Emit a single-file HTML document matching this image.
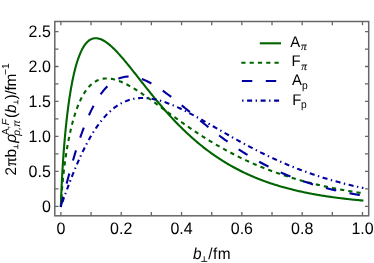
<!DOCTYPE html>
<html><head><meta charset="utf-8"><title>plot</title>
<style>
html,body{margin:0;padding:0;background:#fff;}
body{width:374px;height:263px;overflow:hidden;position:relative;font-family:"Liberation Sans",sans-serif;}
</style></head><body>
<svg width="374" height="263" viewBox="0 0 374 263" text-rendering="geometricPrecision" style="display:block;position:absolute;left:0;top:0;will-change:transform">
<rect x="0" y="0" width="374" height="263" fill="#ffffff"/>
<defs><clipPath id="c"><rect x="54.8" y="21.5" width="313.9" height="194.3"/></clipPath></defs>
<g clip-path="url(#c)" fill="none" stroke-linejoin="round">
<path d="M60.88,206.88 L60.90,206.28 L61.16,197.56 L61.41,191.00 L61.67,185.27 L61.92,180.08 L62.18,175.28 L62.43,170.80 L62.69,166.58 L62.95,162.58 L63.20,158.78 L63.46,155.16 L63.71,151.69 L63.97,148.36 L64.22,145.16 L64.48,142.08 L64.73,139.11 L64.99,136.25 L65.25,133.48 L65.50,130.80 L65.76,128.20 L66.01,125.69 L66.27,123.25 L66.52,120.89 L66.78,118.59 L67.03,116.36 L67.29,114.20 L67.55,112.09 L67.80,110.04 L68.06,108.05 L68.31,106.11 L68.57,104.22 L68.82,102.38 L69.08,100.59 L69.33,98.84 L69.59,97.14 L69.85,95.48 L70.10,93.86 L70.36,92.28 L70.61,90.74 L70.87,89.24 L71.12,87.78 L71.38,86.35 L71.64,84.96 L71.89,83.60 L72.15,82.27 L72.40,80.98 L72.66,79.71 L72.91,78.48 L73.17,77.28 L73.42,76.10 L73.68,74.95 L73.94,73.83 L74.19,72.74 L74.45,71.67 L74.70,70.63 L74.96,69.61 L75.21,68.62 L75.47,67.65 L75.72,66.71 L75.98,65.78 L76.94,62.51 L77.90,59.52 L78.86,56.80 L79.83,54.34 L80.79,52.10 L81.75,50.08 L82.71,48.26 L83.67,46.63 L84.63,45.18 L85.59,43.89 L86.55,42.76 L87.52,41.78 L88.48,40.93 L89.44,40.21 L90.40,39.61 L91.36,39.12 L92.32,38.75 L93.28,38.47 L94.24,38.30 L95.21,38.21 L96.17,38.20 L97.13,38.28 L98.09,38.44 L99.05,38.66 L100.01,38.96 L100.97,39.31 L101.93,39.73 L102.90,40.21 L103.86,40.73 L104.82,41.31 L105.78,41.94 L106.74,42.61 L107.70,43.33 L108.66,44.08 L109.63,44.87 L110.59,45.70 L111.55,46.56 L112.51,47.45 L113.47,48.37 L114.43,49.32 L115.39,50.29 L116.35,51.29 L117.32,52.30 L118.28,53.34 L119.24,54.40 L120.20,55.48 L121.16,56.57 L122.12,57.68 L123.08,58.80 L124.04,59.94 L125.01,61.09 L125.97,62.24 L126.93,63.41 L127.89,64.59 L128.85,65.77 L129.81,66.96 L130.77,68.16 L131.73,69.36 L132.70,70.57 L133.66,71.78 L134.62,72.99 L135.58,74.21 L136.54,75.43 L137.50,76.65 L138.46,77.87 L139.42,79.09 L140.39,80.31 L141.35,81.53 L142.31,82.75 L143.27,83.97 L144.23,85.18 L145.19,86.39 L146.15,87.60 L147.12,88.81 L148.08,90.01 L149.04,91.21 L150.00,92.40 L150.96,93.59 L151.92,94.78 L152.88,95.95 L153.84,97.13 L154.81,98.30 L155.77,99.46 L156.73,100.61 L157.69,101.76 L158.65,102.91 L159.61,104.04 L160.57,105.17 L161.53,106.29 L162.50,107.41 L163.46,108.52 L164.42,109.62 L165.38,110.71 L166.34,111.79 L167.30,112.87 L168.26,113.94 L169.22,115.00 L170.19,116.06 L171.15,117.10 L172.11,118.14 L173.07,119.17 L174.03,120.19 L174.99,121.20 L175.95,122.20 L176.92,123.20 L177.88,124.18 L178.84,125.16 L179.80,126.13 L180.76,127.09 L181.72,128.04 L182.68,128.99 L183.64,129.92 L184.61,130.85 L185.57,131.77 L186.53,132.67 L187.49,133.57 L188.45,134.47 L189.41,135.35 L190.37,136.22 L191.33,137.09 L192.30,137.95 L193.26,138.79 L194.22,139.63 L195.18,140.47 L196.14,141.29 L197.10,142.10 L198.06,142.91 L199.02,143.71 L199.99,144.50 L200.95,145.28 L201.91,146.05 L202.87,146.82 L203.83,147.57 L204.79,148.32 L205.75,149.06 L206.72,149.79 L207.68,150.52 L208.64,151.24 L209.60,151.94 L210.56,152.64 L211.52,153.34 L212.48,154.02 L213.44,154.70 L214.41,155.37 L215.37,156.03 L216.33,156.69 L217.29,157.33 L218.25,157.97 L219.21,158.61 L220.17,159.23 L221.13,159.85 L222.10,160.46 L223.06,161.06 L224.02,161.66 L224.98,162.25 L225.94,162.83 L226.90,163.41 L227.86,163.98 L228.82,164.54 L229.79,165.09 L230.75,165.64 L231.71,166.18 L232.67,166.72 L233.63,167.25 L234.59,167.77 L235.55,168.29 L236.51,168.80 L237.48,169.30 L238.44,169.80 L239.40,170.29 L240.36,170.78 L241.32,171.26 L242.28,171.73 L243.24,172.20 L244.21,172.66 L245.17,173.11 L246.13,173.57 L247.09,174.01 L248.05,174.45 L249.01,174.88 L249.97,175.31 L250.93,175.73 L251.90,176.15 L252.86,176.56 L253.82,176.97 L254.78,177.37 L255.74,177.77 L256.70,178.16 L257.66,178.55 L258.62,178.93 L259.59,179.31 L260.55,179.68 L261.51,180.05 L262.47,180.41 L263.43,180.77 L264.39,181.12 L265.35,181.47 L266.31,181.81 L267.28,182.15 L268.24,182.49 L269.20,182.82 L270.16,183.14 L271.12,183.47 L272.08,183.78 L273.04,184.10 L274.01,184.41 L274.97,184.71 L275.93,185.01 L276.89,185.31 L277.85,185.61 L278.81,185.90 L279.77,186.18 L280.73,186.46 L281.70,186.74 L282.66,187.02 L283.62,187.29 L284.58,187.55 L285.54,187.82 L286.50,188.08 L287.46,188.34 L288.42,188.59 L289.39,188.84 L290.35,189.09 L291.31,189.33 L292.27,189.57 L293.23,189.81 L294.19,190.04 L295.15,190.27 L296.11,190.50 L297.08,190.72 L298.04,190.94 L299.00,191.16 L299.96,191.38 L300.92,191.59 L301.88,191.80 L302.84,192.00 L303.81,192.21 L304.77,192.41 L305.73,192.61 L306.69,192.80 L307.65,192.99 L308.61,193.18 L309.57,193.37 L310.53,193.56 L311.50,193.74 L312.46,193.92 L313.42,194.10 L314.38,194.27 L315.34,194.44 L316.30,194.61 L317.26,194.78 L318.22,194.95 L319.19,195.11 L320.15,195.27 L321.11,195.43 L322.07,195.59 L323.03,195.74 L323.99,195.89 L324.95,196.04 L325.91,196.19 L326.88,196.34 L327.84,196.48 L328.80,196.62 L329.76,196.76 L330.72,196.90 L331.68,197.04 L332.64,197.17 L333.60,197.30 L334.57,197.43 L335.53,197.56 L336.49,197.69 L337.45,197.81 L338.41,197.94 L339.37,198.06 L340.33,198.18 L341.30,198.30 L342.26,198.41 L343.22,198.53 L344.18,198.64 L345.14,198.75 L346.10,198.86 L347.06,198.97 L348.02,199.08 L348.99,199.18 L349.95,199.29 L350.91,199.39 L351.87,199.49 L352.83,199.59 L353.79,199.69 L354.75,199.78 L355.71,199.88 L356.68,199.97 L357.64,200.06 L358.60,200.16 L359.56,200.25 L360.52,200.33 L361.48,200.42 L362.44,200.51 L363.40,200.59" stroke="#006400" stroke-width="2.1"/>
<path d="M60.87,206.89 L60.90,206.29 L61.16,200.99 L61.41,196.96 L61.67,193.39 L61.92,190.14 L62.18,187.12 L62.43,184.28 L62.69,181.59 L62.95,179.03 L63.20,176.58 L63.46,174.24 L63.71,171.99 L63.97,169.82 L64.22,167.72 L64.48,165.69 L64.73,163.73 L64.99,161.83 L65.25,159.98 L65.50,158.19 L65.76,156.45 L66.01,154.75 L66.27,153.10 L66.52,151.49 L66.78,149.92 L67.03,148.39 L67.29,146.89 L67.55,145.44 L67.80,144.01 L68.06,142.62 L68.31,141.26 L68.57,139.93 L68.82,138.63 L69.08,137.36 L69.33,136.11 L69.59,134.89 L69.85,133.70 L70.10,132.53 L70.36,131.38 L70.61,130.26 L70.87,129.16 L71.12,128.09 L71.38,127.03 L71.64,126.00 L71.89,124.98 L72.15,123.99 L72.40,123.01 L72.66,122.05 L72.91,121.12 L73.17,120.19 L73.42,119.29 L73.68,118.40 L73.94,117.53 L74.19,116.68 L74.45,115.84 L74.70,115.02 L74.96,114.21 L75.21,113.42 L75.47,112.65 L75.72,111.88 L75.98,111.13 L76.94,108.44 L77.90,105.92 L78.86,103.57 L79.83,101.38 L80.79,99.33 L81.75,97.43 L82.71,95.65 L83.67,93.99 L84.63,92.45 L85.59,91.02 L86.55,89.69 L87.52,88.46 L88.48,87.32 L89.44,86.27 L90.40,85.31 L91.36,84.42 L92.32,83.61 L93.28,82.87 L94.24,82.20 L95.21,81.59 L96.17,81.05 L97.13,80.56 L98.09,80.14 L99.05,79.76 L100.01,79.44 L100.97,79.17 L101.93,78.95 L102.90,78.77 L103.86,78.63 L104.82,78.54 L105.78,78.49 L106.74,78.47 L107.70,78.49 L108.66,78.54 L109.63,78.63 L110.59,78.75 L111.55,78.90 L112.51,79.08 L113.47,79.29 L114.43,79.52 L115.39,79.78 L116.35,80.07 L117.32,80.37 L118.28,80.70 L119.24,81.06 L120.20,81.43 L121.16,81.82 L122.12,82.23 L123.08,82.66 L124.04,83.10 L125.01,83.56 L125.97,84.04 L126.93,84.53 L127.89,85.03 L128.85,85.55 L129.81,86.08 L130.77,86.63 L131.73,87.18 L132.70,87.75 L133.66,88.32 L134.62,88.91 L135.58,89.50 L136.54,90.11 L137.50,90.72 L138.46,91.34 L139.42,91.97 L140.39,92.60 L141.35,93.24 L142.31,93.89 L143.27,94.55 L144.23,95.20 L145.19,95.87 L146.15,96.54 L147.12,97.21 L148.08,97.89 L149.04,98.57 L150.00,99.25 L150.96,99.94 L151.92,100.63 L152.88,101.32 L153.84,102.02 L154.81,102.72 L155.77,103.42 L156.73,104.12 L157.69,104.82 L158.65,105.52 L159.61,106.23 L160.57,106.93 L161.53,107.64 L162.50,108.34 L163.46,109.05 L164.42,109.75 L165.38,110.46 L166.34,111.17 L167.30,111.87 L168.26,112.57 L169.22,113.28 L170.19,113.98 L171.15,114.68 L172.11,115.38 L173.07,116.08 L174.03,116.78 L174.99,117.47 L175.95,118.17 L176.92,118.86 L177.88,119.55 L178.84,120.24 L179.80,120.93 L180.76,121.61 L181.72,122.29 L182.68,122.97 L183.64,123.65 L184.61,124.32 L185.57,124.99 L186.53,125.66 L187.49,126.33 L188.45,126.99 L189.41,127.65 L190.37,128.31 L191.33,128.96 L192.30,129.62 L193.26,130.26 L194.22,130.91 L195.18,131.55 L196.14,132.19 L197.10,132.83 L198.06,133.46 L199.02,134.09 L199.99,134.71 L200.95,135.33 L201.91,135.95 L202.87,136.57 L203.83,137.18 L204.79,137.79 L205.75,138.39 L206.72,138.99 L207.68,139.59 L208.64,140.18 L209.60,140.77 L210.56,141.36 L211.52,141.94 L212.48,142.52 L213.44,143.09 L214.41,143.66 L215.37,144.23 L216.33,144.80 L217.29,145.35 L218.25,145.91 L219.21,146.46 L220.17,147.01 L221.13,147.56 L222.10,148.10 L223.06,148.63 L224.02,149.17 L224.98,149.70 L225.94,150.22 L226.90,150.74 L227.86,151.26 L228.82,151.78 L229.79,152.29 L230.75,152.79 L231.71,153.30 L232.67,153.80 L233.63,154.29 L234.59,154.78 L235.55,155.27 L236.51,155.75 L237.48,156.23 L238.44,156.71 L239.40,157.18 L240.36,157.65 L241.32,158.12 L242.28,158.58 L243.24,159.04 L244.21,159.49 L245.17,159.94 L246.13,160.39 L247.09,160.83 L248.05,161.27 L249.01,161.71 L249.97,162.14 L250.93,162.57 L251.90,163.00 L252.86,163.42 L253.82,163.84 L254.78,164.25 L255.74,164.67 L256.70,165.07 L257.66,165.48 L258.62,165.88 L259.59,166.28 L260.55,166.67 L261.51,167.06 L262.47,167.45 L263.43,167.84 L264.39,168.22 L265.35,168.59 L266.31,168.97 L267.28,169.34 L268.24,169.71 L269.20,170.07 L270.16,170.44 L271.12,170.79 L272.08,171.15 L273.04,171.50 L274.01,171.85 L274.97,172.20 L275.93,172.54 L276.89,172.88 L277.85,173.21 L278.81,173.55 L279.77,173.88 L280.73,174.21 L281.70,174.53 L282.66,174.85 L283.62,175.17 L284.58,175.49 L285.54,175.80 L286.50,176.11 L287.46,176.42 L288.42,176.72 L289.39,177.02 L290.35,177.32 L291.31,177.62 L292.27,177.91 L293.23,178.20 L294.19,178.49 L295.15,178.78 L296.11,179.06 L297.08,179.34 L298.04,179.61 L299.00,179.89 L299.96,180.16 L300.92,180.43 L301.88,180.70 L302.84,180.96 L303.81,181.22 L304.77,181.48 L305.73,181.74 L306.69,181.99 L307.65,182.25 L308.61,182.50 L309.57,182.74 L310.53,182.99 L311.50,183.23 L312.46,183.47 L313.42,183.71 L314.38,183.94 L315.34,184.18 L316.30,184.41 L317.26,184.64 L318.22,184.86 L319.19,185.09 L320.15,185.31 L321.11,185.53 L322.07,185.75 L323.03,185.96 L323.99,186.18 L324.95,186.39 L325.91,186.60 L326.88,186.81 L327.84,187.01 L328.80,187.21 L329.76,187.42 L330.72,187.61 L331.68,187.81 L332.64,188.01 L333.60,188.20 L334.57,188.39 L335.53,188.58 L336.49,188.77 L337.45,188.96 L338.41,189.14 L339.37,189.32 L340.33,189.50 L341.30,189.68 L342.26,189.86 L343.22,190.03 L344.18,190.21 L345.14,190.38 L346.10,190.55 L347.06,190.71 L348.02,190.88 L348.99,191.05 L349.95,191.21 L350.91,191.37 L351.87,191.53 L352.83,191.69 L353.79,191.84 L354.75,192.00 L355.71,192.15 L356.68,192.30 L357.64,192.45 L358.60,192.60 L359.56,192.75 L360.52,192.89 L361.48,193.04 L362.44,193.18 L363.40,193.32" stroke="#006400" stroke-width="2.1" stroke-dasharray="4.2 4.1"/>
<path d="M60.76,206.88 L60.90,206.30 L61.16,205.27 L61.41,204.24 L61.67,203.21 L61.92,202.19 L62.18,201.16 L62.43,200.13 L62.69,199.11 L62.95,198.09 L63.20,197.07 L63.46,196.05 L63.71,195.04 L63.97,194.02 L64.22,193.01 L64.48,192.00 L64.73,191.00 L64.99,190.00 L65.25,189.00 L65.50,188.00 L65.76,187.00 L66.01,186.01 L66.27,185.03 L66.52,184.04 L66.78,183.06 L67.03,182.08 L67.29,181.11 L67.55,180.14 L67.80,179.17 L68.06,178.21 L68.31,177.25 L68.57,176.30 L68.82,175.34 L69.08,174.40 L69.33,173.45 L69.59,172.52 L69.85,171.58 L70.10,170.65 L70.36,169.72 L70.61,168.80 L70.87,167.88 L71.12,166.97 L71.38,166.06 L71.64,165.16 L71.89,164.26 L72.15,163.36 L72.40,162.47 L72.66,161.58 L72.91,160.70 L73.17,159.83 L73.42,158.95 L73.68,158.09 L73.94,157.22 L74.19,156.37 L74.45,155.51 L74.70,154.66 L74.96,153.82 L75.21,152.98 L75.47,152.15 L75.72,151.32 L75.98,150.49 L76.94,147.44 L77.90,144.45 L78.86,141.54 L79.83,138.70 L80.79,135.93 L81.75,133.23 L82.71,130.60 L83.67,128.04 L84.63,125.56 L85.59,123.15 L86.55,120.81 L87.52,118.53 L88.48,116.33 L89.44,114.20 L90.40,112.14 L91.36,110.15 L92.32,108.22 L93.28,106.36 L94.24,104.57 L95.21,102.85 L96.17,101.18 L97.13,99.59 L98.09,98.05 L99.05,96.58 L100.01,95.17 L100.97,93.82 L101.93,92.53 L102.90,91.29 L103.86,90.12 L104.82,89.00 L105.78,87.94 L106.74,86.93 L107.70,85.97 L108.66,85.07 L109.63,84.22 L110.59,83.42 L111.55,82.67 L112.51,81.97 L113.47,81.31 L114.43,80.71 L115.39,80.14 L116.35,79.63 L117.32,79.15 L118.28,78.72 L119.24,78.33 L120.20,77.99 L121.16,77.68 L122.12,77.41 L123.08,77.18 L124.04,76.98 L125.01,76.82 L125.97,76.70 L126.93,76.61 L127.89,76.56 L128.85,76.54 L129.81,76.55 L130.77,76.59 L131.73,76.66 L132.70,76.76 L133.66,76.89 L134.62,77.05 L135.58,77.23 L136.54,77.44 L137.50,77.68 L138.46,77.94 L139.42,78.22 L140.39,78.53 L141.35,78.86 L142.31,79.21 L143.27,79.58 L144.23,79.97 L145.19,80.39 L146.15,80.82 L147.12,81.27 L148.08,81.74 L149.04,82.23 L150.00,82.73 L150.96,83.25 L151.92,83.78 L152.88,84.33 L153.84,84.89 L154.81,85.47 L155.77,86.06 L156.73,86.66 L157.69,87.28 L158.65,87.91 L159.61,88.54 L160.57,89.19 L161.53,89.85 L162.50,90.52 L163.46,91.20 L164.42,91.89 L165.38,92.58 L166.34,93.29 L167.30,94.00 L168.26,94.72 L169.22,95.44 L170.19,96.17 L171.15,96.91 L172.11,97.66 L173.07,98.40 L174.03,99.16 L174.99,99.92 L175.95,100.68 L176.92,101.45 L177.88,102.22 L178.84,102.99 L179.80,103.77 L180.76,104.55 L181.72,105.33 L182.68,106.12 L183.64,106.90 L184.61,107.69 L185.57,108.48 L186.53,109.27 L187.49,110.07 L188.45,110.86 L189.41,111.65 L190.37,112.45 L191.33,113.24 L192.30,114.03 L193.26,114.83 L194.22,115.62 L195.18,116.41 L196.14,117.20 L197.10,117.99 L198.06,118.78 L199.02,119.57 L199.99,120.35 L200.95,121.14 L201.91,121.92 L202.87,122.70 L203.83,123.48 L204.79,124.25 L205.75,125.03 L206.72,125.80 L207.68,126.57 L208.64,127.33 L209.60,128.09 L210.56,128.85 L211.52,129.61 L212.48,130.36 L213.44,131.11 L214.41,131.85 L215.37,132.60 L216.33,133.33 L217.29,134.07 L218.25,134.80 L219.21,135.53 L220.17,136.25 L221.13,136.97 L222.10,137.68 L223.06,138.40 L224.02,139.10 L224.98,139.80 L225.94,140.50 L226.90,141.20 L227.86,141.89 L228.82,142.57 L229.79,143.25 L230.75,143.93 L231.71,144.60 L232.67,145.26 L233.63,145.93 L234.59,146.58 L235.55,147.24 L236.51,147.88 L237.48,148.53 L238.44,149.17 L239.40,149.80 L240.36,150.43 L241.32,151.05 L242.28,151.67 L243.24,152.28 L244.21,152.89 L245.17,153.50 L246.13,154.10 L247.09,154.69 L248.05,155.28 L249.01,155.86 L249.97,156.44 L250.93,157.02 L251.90,157.59 L252.86,158.15 L253.82,158.71 L254.78,159.27 L255.74,159.82 L256.70,160.36 L257.66,160.90 L258.62,161.44 L259.59,161.97 L260.55,162.49 L261.51,163.01 L262.47,163.53 L263.43,164.04 L264.39,164.55 L265.35,165.05 L266.31,165.54 L267.28,166.04 L268.24,166.52 L269.20,167.00 L270.16,167.48 L271.12,167.96 L272.08,168.42 L273.04,168.89 L274.01,169.35 L274.97,169.80 L275.93,170.25 L276.89,170.69 L277.85,171.14 L278.81,171.57 L279.77,172.00 L280.73,172.43 L281.70,172.85 L282.66,173.27 L283.62,173.68 L284.58,174.09 L285.54,174.50 L286.50,174.90 L287.46,175.30 L288.42,175.69 L289.39,176.08 L290.35,176.46 L291.31,176.84 L292.27,177.22 L293.23,177.59 L294.19,177.95 L295.15,178.32 L296.11,178.68 L297.08,179.03 L298.04,179.38 L299.00,179.73 L299.96,180.07 L300.92,180.41 L301.88,180.75 L302.84,181.08 L303.81,181.41 L304.77,181.73 L305.73,182.06 L306.69,182.37 L307.65,182.69 L308.61,183.00 L309.57,183.30 L310.53,183.61 L311.50,183.90 L312.46,184.20 L313.42,184.49 L314.38,184.78 L315.34,185.07 L316.30,185.35 L317.26,185.63 L318.22,185.90 L319.19,186.17 L320.15,186.44 L321.11,186.71 L322.07,186.97 L323.03,187.23 L323.99,187.49 L324.95,187.74 L325.91,187.99 L326.88,188.24 L327.84,188.48 L328.80,188.72 L329.76,188.96 L330.72,189.19 L331.68,189.43 L332.64,189.66 L333.60,189.88 L334.57,190.11 L335.53,190.33 L336.49,190.55 L337.45,190.76 L338.41,190.97 L339.37,191.18 L340.33,191.39 L341.30,191.60 L342.26,191.80 L343.22,192.00 L344.18,192.20 L345.14,192.39 L346.10,192.58 L347.06,192.77 L348.02,192.96 L348.99,193.15 L349.95,193.33 L350.91,193.51 L351.87,193.69 L352.83,193.86 L353.79,194.04 L354.75,194.21 L355.71,194.38 L356.68,194.54 L357.64,194.71 L358.60,194.87 L359.56,195.03 L360.52,195.19 L361.48,195.34 L362.44,195.50 L363.40,195.65" stroke="#0000A0" stroke-width="2.1" stroke-dasharray="10.5 13.5"/>
<path d="M60.70,206.86 L60.90,206.30 L61.16,205.58 L61.41,204.87 L61.67,204.15 L61.92,203.43 L62.18,202.72 L62.43,202.00 L62.69,201.29 L62.95,200.58 L63.20,199.86 L63.46,199.15 L63.71,198.44 L63.97,197.73 L64.22,197.03 L64.48,196.32 L64.73,195.62 L64.99,194.91 L65.25,194.21 L65.50,193.51 L65.76,192.81 L66.01,192.11 L66.27,191.42 L66.52,190.73 L66.78,190.03 L67.03,189.34 L67.29,188.66 L67.55,187.97 L67.80,187.29 L68.06,186.60 L68.31,185.92 L68.57,185.25 L68.82,184.57 L69.08,183.90 L69.33,183.22 L69.59,182.55 L69.85,181.89 L70.10,181.22 L70.36,180.56 L70.61,179.90 L70.87,179.24 L71.12,178.59 L71.38,177.93 L71.64,177.28 L71.89,176.63 L72.15,175.99 L72.40,175.34 L72.66,174.70 L72.91,174.07 L73.17,173.43 L73.42,172.80 L73.68,172.17 L73.94,171.54 L74.19,170.91 L74.45,170.29 L74.70,169.67 L74.96,169.05 L75.21,168.44 L75.47,167.83 L75.72,167.22 L75.98,166.61 L76.94,164.35 L77.90,162.14 L78.86,159.96 L79.83,157.82 L80.79,155.73 L81.75,153.67 L82.71,151.66 L83.67,149.69 L84.63,147.76 L85.59,145.87 L86.55,144.02 L87.52,142.21 L88.48,140.45 L89.44,138.73 L90.40,137.05 L91.36,135.41 L92.32,133.81 L93.28,132.26 L94.24,130.74 L95.21,129.26 L96.17,127.83 L97.13,126.43 L98.09,125.08 L99.05,123.76 L100.01,122.48 L100.97,121.24 L101.93,120.04 L102.90,118.88 L103.86,117.75 L104.82,116.66 L105.78,115.61 L106.74,114.59 L107.70,113.61 L108.66,112.66 L109.63,111.75 L110.59,110.87 L111.55,110.03 L112.51,109.22 L113.47,108.44 L114.43,107.70 L115.39,106.98 L116.35,106.30 L117.32,105.65 L118.28,105.03 L119.24,104.44 L120.20,103.88 L121.16,103.34 L122.12,102.84 L123.08,102.36 L124.04,101.92 L125.01,101.49 L125.97,101.10 L126.93,100.73 L127.89,100.39 L128.85,100.07 L129.81,99.77 L130.77,99.51 L131.73,99.26 L132.70,99.04 L133.66,98.84 L134.62,98.66 L135.58,98.51 L136.54,98.37 L137.50,98.26 L138.46,98.17 L139.42,98.10 L140.39,98.05 L141.35,98.01 L142.31,98.00 L143.27,98.00 L144.23,98.03 L145.19,98.07 L146.15,98.13 L147.12,98.20 L148.08,98.29 L149.04,98.40 L150.00,98.52 L150.96,98.66 L151.92,98.82 L152.88,98.99 L153.84,99.17 L154.81,99.36 L155.77,99.58 L156.73,99.80 L157.69,100.04 L158.65,100.28 L159.61,100.55 L160.57,100.82 L161.53,101.10 L162.50,101.40 L163.46,101.71 L164.42,102.02 L165.38,102.35 L166.34,102.69 L167.30,103.04 L168.26,103.39 L169.22,103.76 L170.19,104.13 L171.15,104.52 L172.11,104.91 L173.07,105.31 L174.03,105.72 L174.99,106.13 L175.95,106.55 L176.92,106.98 L177.88,107.42 L178.84,107.86 L179.80,108.31 L180.76,108.77 L181.72,109.23 L182.68,109.70 L183.64,110.17 L184.61,110.65 L185.57,111.13 L186.53,111.62 L187.49,112.11 L188.45,112.60 L189.41,113.10 L190.37,113.61 L191.33,114.12 L192.30,114.63 L193.26,115.14 L194.22,115.66 L195.18,116.18 L196.14,116.71 L197.10,117.24 L198.06,117.77 L199.02,118.30 L199.99,118.83 L200.95,119.37 L201.91,119.91 L202.87,120.45 L203.83,120.99 L204.79,121.54 L205.75,122.08 L206.72,122.63 L207.68,123.18 L208.64,123.73 L209.60,124.28 L210.56,124.83 L211.52,125.38 L212.48,125.93 L213.44,126.48 L214.41,127.03 L215.37,127.59 L216.33,128.14 L217.29,128.69 L218.25,129.25 L219.21,129.80 L220.17,130.35 L221.13,130.90 L222.10,131.45 L223.06,132.00 L224.02,132.56 L224.98,133.10 L225.94,133.65 L226.90,134.20 L227.86,134.75 L228.82,135.29 L229.79,135.84 L230.75,136.38 L231.71,136.92 L232.67,137.47 L233.63,138.01 L234.59,138.54 L235.55,139.08 L236.51,139.62 L237.48,140.15 L238.44,140.68 L239.40,141.21 L240.36,141.74 L241.32,142.26 L242.28,142.79 L243.24,143.31 L244.21,143.83 L245.17,144.35 L246.13,144.87 L247.09,145.38 L248.05,145.89 L249.01,146.40 L249.97,146.91 L250.93,147.42 L251.90,147.92 L252.86,148.42 L253.82,148.92 L254.78,149.41 L255.74,149.91 L256.70,150.40 L257.66,150.89 L258.62,151.37 L259.59,151.86 L260.55,152.34 L261.51,152.82 L262.47,153.29 L263.43,153.77 L264.39,154.24 L265.35,154.70 L266.31,155.17 L267.28,155.63 L268.24,156.09 L269.20,156.55 L270.16,157.00 L271.12,157.45 L272.08,157.90 L273.04,158.35 L274.01,158.79 L274.97,159.23 L275.93,159.67 L276.89,160.10 L277.85,160.54 L278.81,160.97 L279.77,161.39 L280.73,161.82 L281.70,162.24 L282.66,162.65 L283.62,163.07 L284.58,163.48 L285.54,163.89 L286.50,164.30 L287.46,164.70 L288.42,165.10 L289.39,165.50 L290.35,165.89 L291.31,166.28 L292.27,166.67 L293.23,167.06 L294.19,167.44 L295.15,167.82 L296.11,168.20 L297.08,168.57 L298.04,168.95 L299.00,169.31 L299.96,169.68 L300.92,170.04 L301.88,170.40 L302.84,170.76 L303.81,171.12 L304.77,171.47 L305.73,171.82 L306.69,172.17 L307.65,172.51 L308.61,172.85 L309.57,173.19 L310.53,173.52 L311.50,173.86 L312.46,174.19 L313.42,174.51 L314.38,174.84 L315.34,175.16 L316.30,175.48 L317.26,175.80 L318.22,176.11 L319.19,176.42 L320.15,176.73 L321.11,177.04 L322.07,177.34 L323.03,177.64 L323.99,177.94 L324.95,178.23 L325.91,178.53 L326.88,178.82 L327.84,179.10 L328.80,179.39 L329.76,179.67 L330.72,179.95 L331.68,180.23 L332.64,180.50 L333.60,180.78 L334.57,181.05 L335.53,181.32 L336.49,181.58 L337.45,181.84 L338.41,182.10 L339.37,182.36 L340.33,182.62 L341.30,182.87 L342.26,183.12 L343.22,183.37 L344.18,183.62 L345.14,183.86 L346.10,184.11 L347.06,184.34 L348.02,184.58 L348.99,184.82 L349.95,185.05 L350.91,185.28 L351.87,185.51 L352.83,185.74 L353.79,185.96 L354.75,186.18 L355.71,186.40 L356.68,186.62 L357.64,186.84 L358.60,187.05 L359.56,187.26 L360.52,187.47 L361.48,187.68 L362.44,187.88 L363.40,188.09" stroke="#0000A0" stroke-width="2.1" stroke-dasharray="1.4 3.6 5 3.5"/>
</g>
<g stroke="#666666" stroke-width="1.3" fill="none">
<rect x="54.8" y="21.5" width="313.9" height="194.3" stroke-width="1.5"/>
<path d="M60.90,215.8 v-3.7 M60.90,21.5 v3.7"/>
<path d="M91.06,215.8 v-3.7 M91.06,21.5 v3.7"/>
<path d="M121.22,215.8 v-3.7 M121.22,21.5 v3.7"/>
<path d="M151.38,215.8 v-3.7 M151.38,21.5 v3.7"/>
<path d="M181.54,215.8 v-3.7 M181.54,21.5 v3.7"/>
<path d="M211.70,215.8 v-3.7 M211.70,21.5 v3.7"/>
<path d="M241.86,215.8 v-3.7 M241.86,21.5 v3.7"/>
<path d="M272.02,215.8 v-3.7 M272.02,21.5 v3.7"/>
<path d="M302.18,215.8 v-3.7 M302.18,21.5 v3.7"/>
<path d="M332.34,215.8 v-3.7 M332.34,21.5 v3.7"/>
<path d="M362.50,215.8 v-3.7 M362.50,21.5 v3.7"/>
<path d="M54.8,206.30 h3.7 M368.7,206.30 h-3.7"/>
<path d="M54.8,188.83 h3.7 M368.7,188.83 h-3.7"/>
<path d="M54.8,171.35 h3.7 M368.7,171.35 h-3.7"/>
<path d="M54.8,153.88 h3.7 M368.7,153.88 h-3.7"/>
<path d="M54.8,136.40 h3.7 M368.7,136.40 h-3.7"/>
<path d="M54.8,118.93 h3.7 M368.7,118.93 h-3.7"/>
<path d="M54.8,101.45 h3.7 M368.7,101.45 h-3.7"/>
<path d="M54.8,83.97 h3.7 M368.7,83.97 h-3.7"/>
<path d="M54.8,66.50 h3.7 M368.7,66.50 h-3.7"/>
<path d="M54.8,49.03 h3.7 M368.7,49.03 h-3.7"/>
<path d="M54.8,31.55 h3.7 M368.7,31.55 h-3.7"/>
</g>
<g font-family="Liberation Sans, sans-serif" font-size="16" fill="#000">
<text transform="translate(60.90,233.60) scale(1,1.04)" text-anchor="middle">0</text>
<text transform="translate(121.22,233.60) scale(1,1.04)" text-anchor="middle">0.2</text>
<text transform="translate(181.54,233.60) scale(1,1.04)" text-anchor="middle">0.4</text>
<text transform="translate(241.86,233.60) scale(1,1.04)" text-anchor="middle">0.6</text>
<text transform="translate(302.18,233.60) scale(1,1.04)" text-anchor="middle">0.8</text>
<text transform="translate(362.50,233.60) scale(1,1.04)" text-anchor="middle">1.0</text>
<text transform="translate(50.80,212.15) scale(1,1.04)" text-anchor="end">0</text>
<text transform="translate(50.80,177.20) scale(1,1.04)" text-anchor="end">0.5</text>
<text transform="translate(50.80,142.25) scale(1,1.04)" text-anchor="end">1.0</text>
<text transform="translate(50.80,107.30) scale(1,1.04)" text-anchor="end">1.5</text>
<text transform="translate(50.80,72.35) scale(1,1.04)" text-anchor="end">2.0</text>
<text transform="translate(50.80,37.40) scale(1,1.04)" text-anchor="end">2.5</text>
</g>
<g font-family="Liberation Sans, sans-serif" font-size="15.4" fill="#000">
<text transform="translate(193.00,258.70) scale(1,1.04)" font-style="italic">b</text>
<path d="M201.2,261.4 h6.1 M204.25,261.4 v-5.1" stroke="#000" stroke-width="0.85" fill="none"/>
<text transform="translate(208.20,258.70) scale(1,1.04)" letter-spacing="0.45">/fm</text>
</g>
<g transform="translate(15.6,175.5) rotate(-90) scale(1,1.0)" text-rendering="geometricPrecision" font-family="Liberation Sans, sans-serif" font-size="15.4" fill="#000">
<text x="0" y="0">2</text>
<text x="9.4" y="0" font-family="Liberation Serif, serif" font-size="16.5" stroke="#000" stroke-width="0.25">π</text>
<text x="18.0" y="0">b</text>
<path d="M26.7,2.2 h4.3 M28.85,2.2 v-4.3" stroke="#000" stroke-width="0.8" fill="none"/>
<text x="32.8" y="0" font-style="italic">ρ</text>
<text x="40.5" y="-7.1" font-size="10.3">A<tspan font-style="italic">,F</tspan></text>
<text x="39.8" y="4.7" font-size="10.3" font-style="italic">p,π</text>
<text x="57.6" y="0">(</text>
<text x="62.4" y="0" font-style="italic">b</text>
<path d="M71.2,2.2 h4.3 M73.35,2.2 v-4.3" stroke="#000" stroke-width="0.8" fill="none"/>
<text x="76" y="0" letter-spacing="-0.2">)/fm</text>
<text x="100.6" y="-6.3" font-size="10.3">−1</text>
</g>
<g fill="none">
<path d="M259.8,43.3 H281" stroke="#006400" stroke-width="2.1"/>
<path d="M241.3,62.7 H281" stroke="#006400" stroke-width="2.1" stroke-dasharray="4.2 4.1"/>
<path d="M241.9,81 H281" stroke="#0000A0" stroke-width="2.1" stroke-dasharray="10.4 13.5"/>
<path d="M242.1,100.65 H281" stroke="#0000A0" stroke-width="2.1" stroke-dasharray="1.4 3.6 5 3.5"/>
</g>
<g font-family="Liberation Sans, sans-serif" font-size="14.8" fill="#000">
<text transform="translate(290.30,47.40) scale(1,1.04)" >A</text>
<text transform="translate(301.10,50.20) scale(1,1.04)" font-family="Liberation Serif, serif" font-style="italic" font-size="11.2" stroke="#000" stroke-width="0.1">π</text>
<text transform="translate(291.50,66.40) scale(1,1.04)" >F</text>
<text transform="translate(301.20,69.50) scale(1,1.04)" font-family="Liberation Serif, serif" font-style="italic" font-size="11.2" stroke="#000" stroke-width="0.1">π</text>
<text transform="translate(291.90,85.30) scale(1,1.04)" >A</text>
<text transform="translate(301.90,88.70) scale(1,1.04)" font-size="10.3">p</text>
<text transform="translate(292.30,104.60) scale(1,1.04)" >F</text>
<text transform="translate(301.00,107.80) scale(1,1.04)" font-size="10.3">p</text>
</g>
</svg>
</body></html>
